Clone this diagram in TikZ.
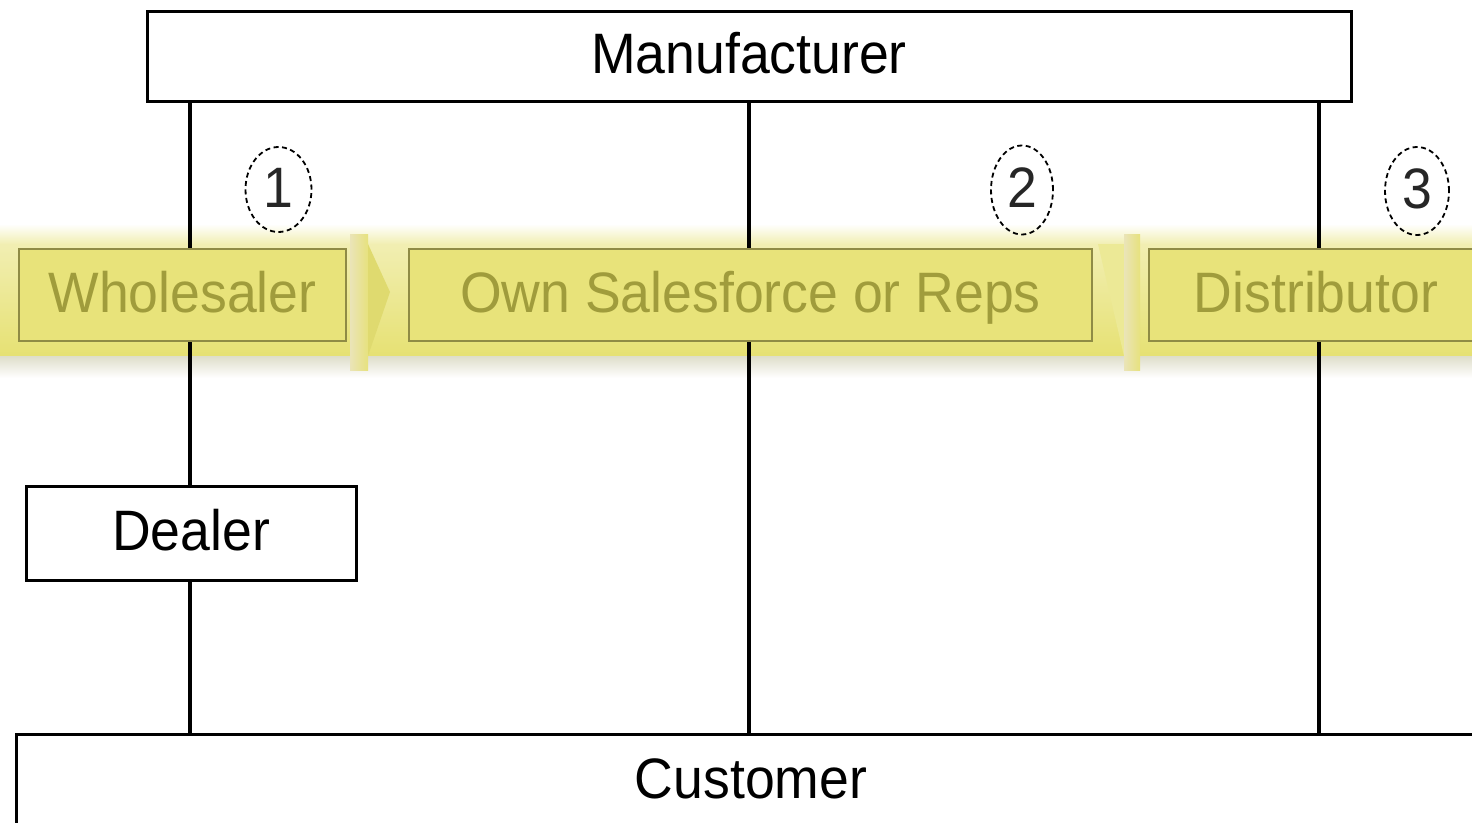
\documentclass[tikz,border=0pt]{standalone}
\usepackage{fontspec}
\setmainfont{Liberation Sans}
\newfontfamily\lab[FakeStretch=0.94]{Liberation Sans}
\usetikzlibrary{shapes.geometric}
\definecolor{boxfill}{HTML}{E8E37A}
\definecolor{boxedge}{HTML}{8F8B45}
\definecolor{boxtext}{HTML}{A09C3C}
\definecolor{panel}{HTML}{E6E173}
\definecolor{gapc}{HTML}{EAE4B8}
\pgfdeclarelayer{band}
\pgfdeclarelayer{conn}
\pgfsetlayers{band,conn,main}
\begin{document}
\begin{tikzpicture}[x=1pt,y=-1pt,
  txt/.style={font=\lab\fontsize{57}{60}\selectfont, text height=35pt, text depth=0pt, inner sep=0pt},
  plainbox/.style={txt, draw=black, line width=3pt, fill=white},
  ybox/.style={txt, draw=boxedge, line width=2.4pt, fill=boxfill, text=boxtext},
  numc/.style={txt, ellipse, draw=black, line width=1.8pt, dash pattern=on 5pt off 3.5pt, text=black!85},
  conn/.style={line width=3.2pt, draw=black}]
\clip (0,0) rectangle (1472,822);
\useasboundingbox (0,0) rectangle (1472,822);

% boxes
\node[plainbox, minimum width=1204pt, minimum height=90pt] (manu) at (749,56) {Manufacturer};
\node[ybox, minimum width=327pt, minimum height=92pt] (whole) at (182.5,295) {Wholesaler};
\node[ybox, minimum width=683pt, minimum height=92pt] (own) at (750.5,295) {Own Salesforce or Reps};
\node[ybox, minimum width=334pt, minimum height=92pt] (dist) at (1316,295) {Distributor};
\node[plainbox, minimum width=330pt, minimum height=94pt] (dealer) at (191,533) {Dealer};
\node[plainbox, minimum width=1470pt, minimum height=94pt] (cust) at (751,781) {Customer};

% numbers
\node[numc, minimum width=66pt, minimum height=85pt] (n1) at (278.5,189.5) {1};
\node[numc, minimum width=62pt, minimum height=89pt] (n2) at (1022,190) {2};
\node[numc, minimum width=64pt, minimum height=88pt] (n3) at (1417,191) {3};

% connectors
\coordinate (xa) at (190,0);
\coordinate (xb) at (749,0);
\coordinate (xc) at (1319,0);
\begin{pgfonlayer}{conn}
\draw[conn] (manu.south -| xa) -- (whole.north -| xa);
\draw[conn] (whole.south -| xa) -- (dealer.north -| xa);
\draw[conn] (dealer.south -| xa) -- (cust.north -| xa);
\draw[conn] (manu.south -| xb) -- (own.north -| xb);
\draw[conn] (own.south -| xb) -- (cust.north -| xb);
\draw[conn] (manu.south -| xc) -- (dist.north -| xc);
\draw[conn] (dist.south -| xc) -- (cust.north -| xc);
\end{pgfonlayer}

% yellow band
\begin{pgfonlayer}{band}
\fill[top color=white, bottom color=panel!55!white] (0,224) rectangle (1472,244);
\fill[top color=panel!55!white, bottom color=panel] (0,244) rectangle (1472,356);
\fill[top color=panel!45!gray!40!white, bottom color=white] (0,356) rectangle (1472,378);
% gaps between panels
\fill[left color=gapc, right color=panel!85!gapc] (350,234) rectangle (368,370);
\fill[panel!92!boxedge] (368,244) -- (390,292) -- (368,356) -- cycle;
\fill[panel!75!white] (1098,244) -- (1124,244) -- (1124,356) -- cycle;
\fill[left color=gapc, right color=panel!85!gapc] (1124,234) rectangle (1140,370);
\end{pgfonlayer}
\end{tikzpicture}
\end{document}
